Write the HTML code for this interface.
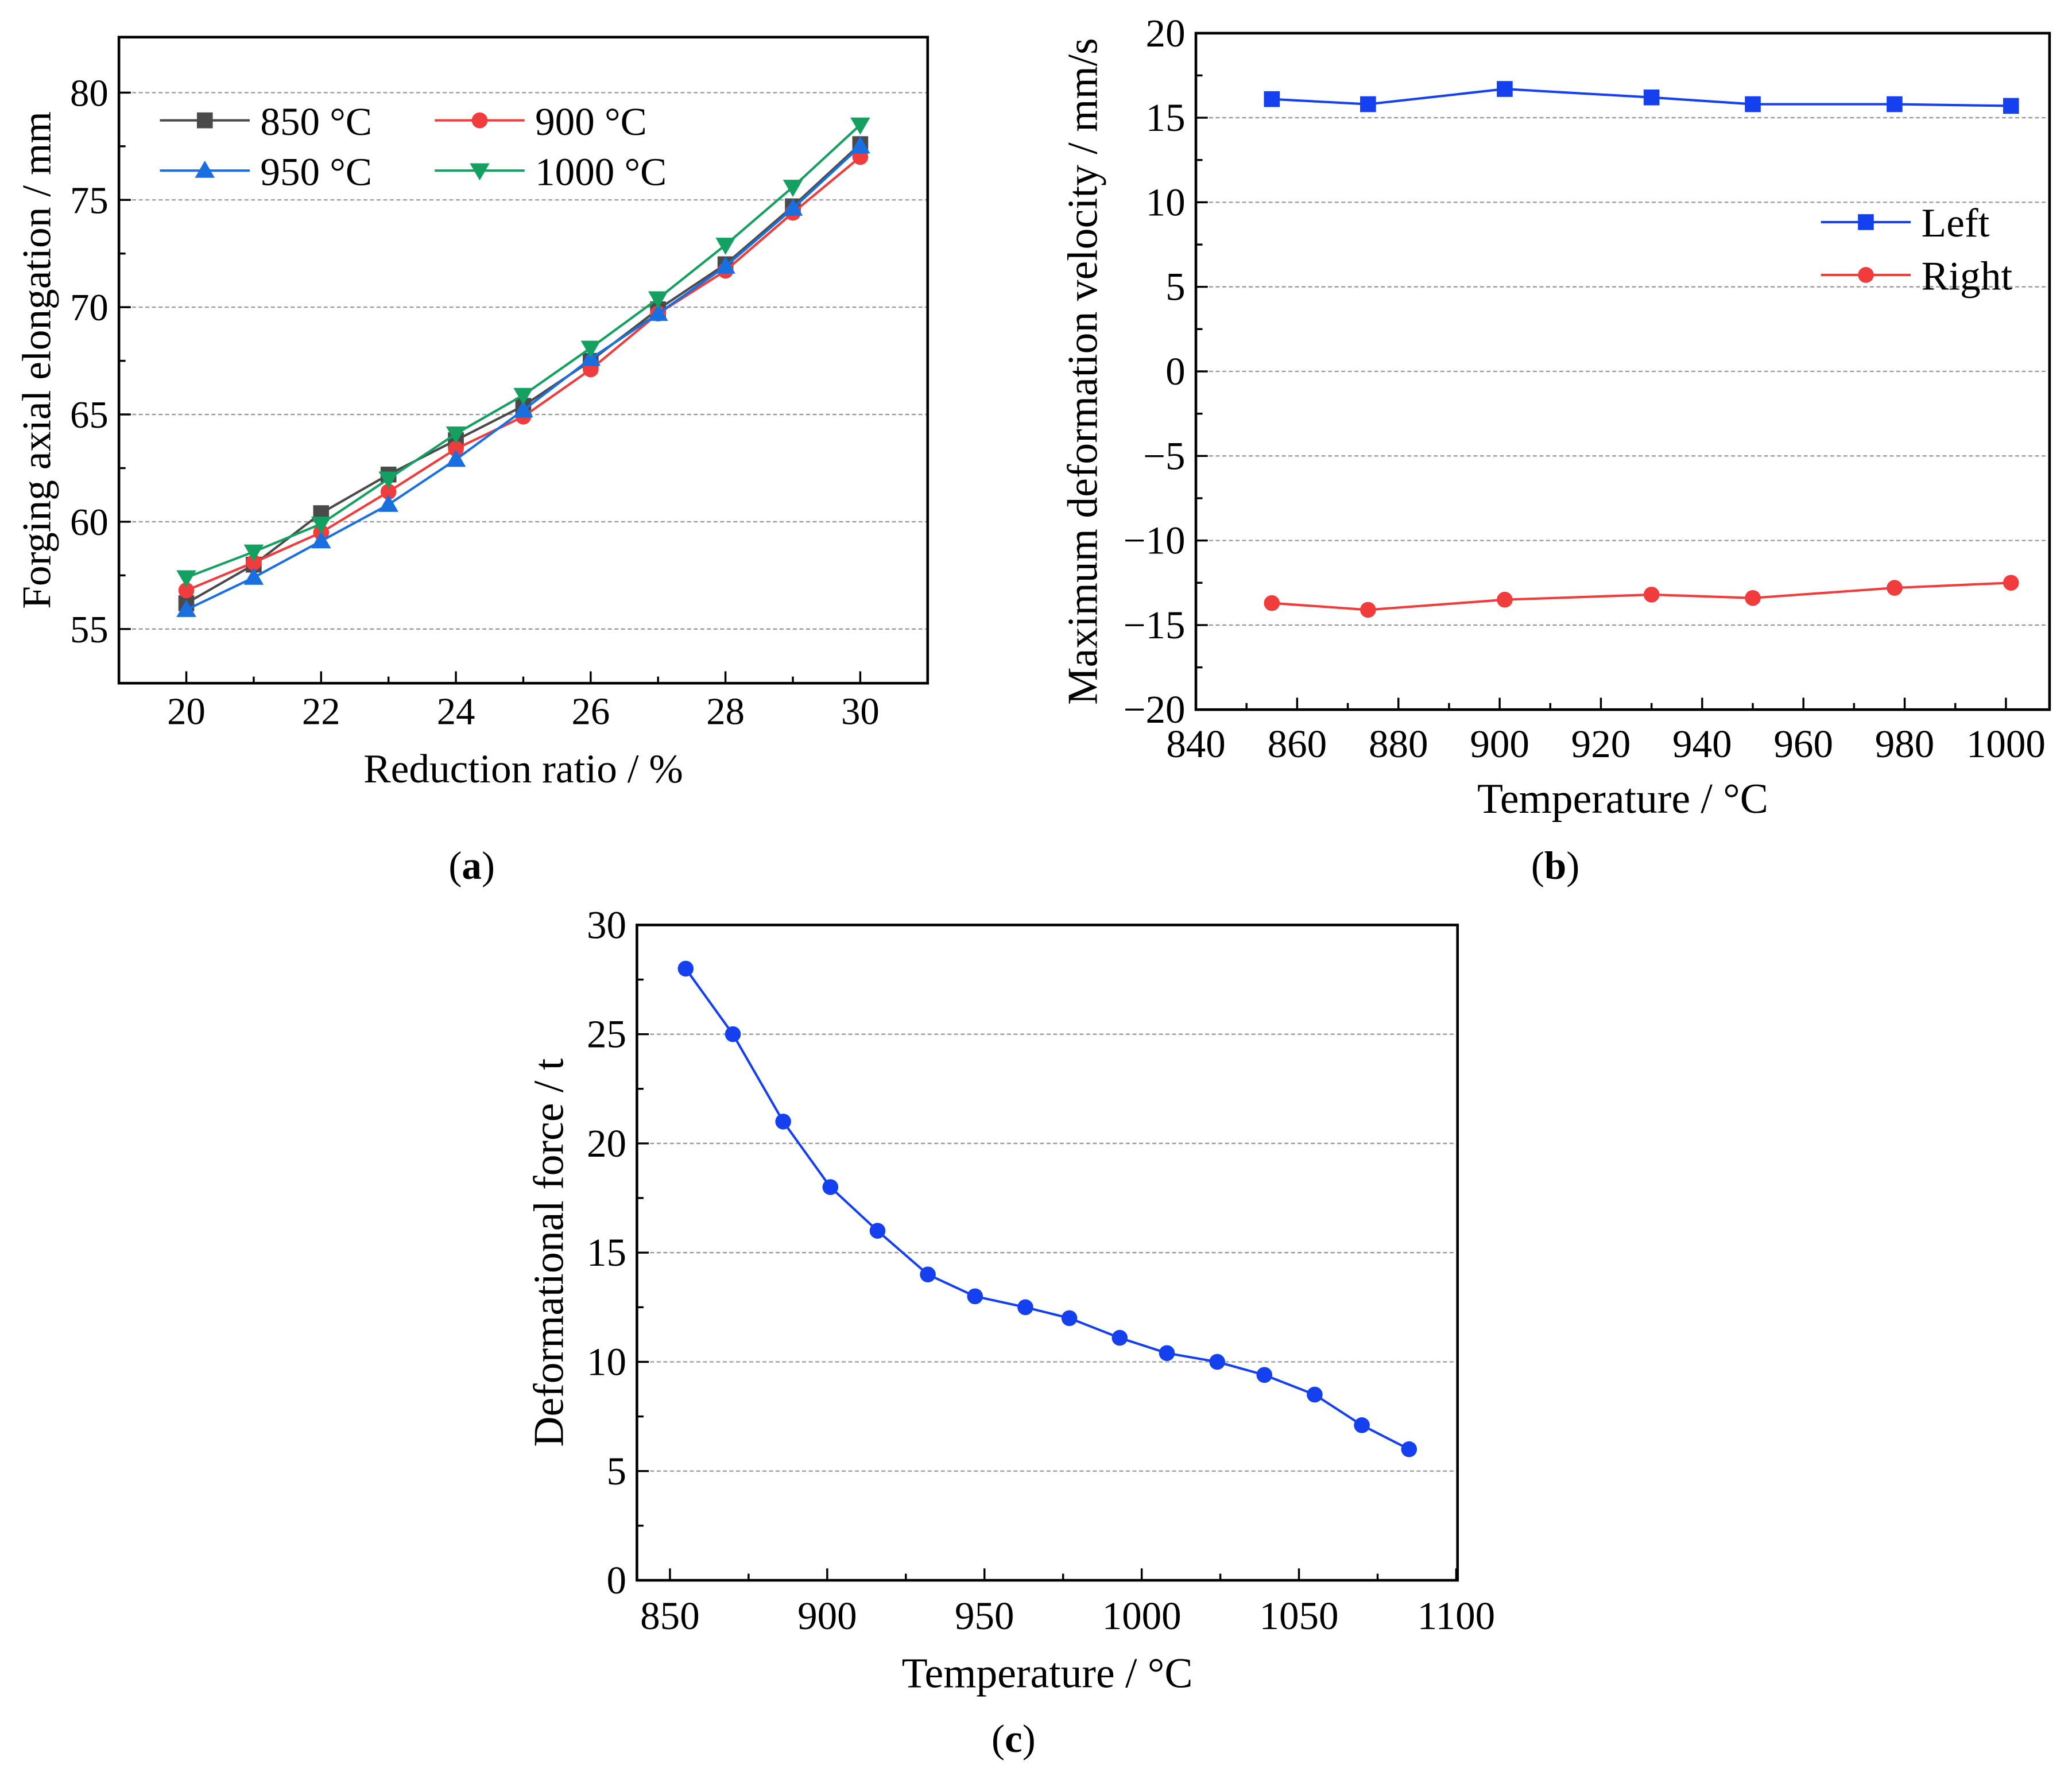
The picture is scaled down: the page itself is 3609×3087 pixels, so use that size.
<!DOCTYPE html>
<html><head><meta charset="utf-8"><style>
html,body{margin:0;padding:0;background:#fff;}
svg{display:block;}
text{font-family:"Liberation Serif",serif;fill:#000;}
</style></head><body>
<svg id="fig" width="3609" height="3087" viewBox="0 0 1568 1341" xmlns="http://www.w3.org/2000/svg">
<rect width="1568" height="1341" fill="#fff"/>
<g id="pa"></g>
<g id="pb"></g>
<g id="pc"></g>
<text x="357" y="665" font-size="30" text-anchor="middle">(<tspan font-weight="bold">a</tspan>)</text>
<text x="1177" y="665" font-size="30" text-anchor="middle">(<tspan font-weight="bold">b</tspan>)</text>
<text x="767" y="1326" font-size="30" text-anchor="middle">(<tspan font-weight="bold">c</tspan>)</text>
</svg>
<script>
// Panel (a) data
const aX = [20,21,22,23,24,25,26,27,28,29,30];
const a850 = [56.2,58.0,60.4,62.2,63.8,65.4,67.5,69.9,72.0,74.7,77.6];
const a900 = [56.8,58.1,59.5,61.4,63.4,64.9,67.1,69.7,71.7,74.4,77.0];
const a950 = [55.9,57.4,59.1,60.8,62.9,65.2,67.6,69.7,71.9,74.6,77.5];
const a1000 = [57.4,58.6,59.9,62.0,64.1,65.9,68.1,70.4,72.9,75.6,78.5];
const aXTicks = [20,22,24,26,28,30];
const aYTicks = [55,60,65,70,75,80];
// Panel (b) data
const bX = [855,874,901,930,950,978,1001];
const bLeft = [16.1,15.8,16.7,16.2,15.8,15.8,15.7];
const bRight = [-13.7,-14.1,-13.5,-13.2,-13.4,-12.8,-12.5];
const bXTicks = [840,860,880,900,920,940,960,980,1000];
const bYTicks = [-20,-15,-10,-5,0,5,10,15,20];
// Panel (c) data
const cX = [855,870,886,901,916,932,947,963,977,993,1008,1024,1039,1055,1070,1085];
const cY = [28,25,21,18,16,14,13,12.5,12,11.1,10.4,10,9.4,8.5,7.1,6];
const cXTicks = [850,900,950,1000,1050,1100];
const cYTicks = [0,5,10,15,20,25,30];

const NS="http://www.w3.org/2000/svg";
function mk(parent,tag,attrs,txt){const e=document.createElementNS(NS,tag);for(const k in attrs)e.setAttribute(k,attrs[k]);if(txt!==undefined)e.textContent=txt;parent.appendChild(e);return e;}
function lin(d0,d1,p0,p1){return v=>p0+(v-d0)*(p1-p0)/(d1-d0);}

function marker(g,type,x,y,color){
  let m;
  if(type==='sq'){m=mk(g,'rect',{x:x-6,y:y-6,width:12,height:12,fill:color});}
  else if(type==='ci'){m=mk(g,'circle',{cx:x,cy:y,r:6,fill:color});}
  else if(type==='tu'){m=mk(g,'polygon',{points:`${x},${y-7.5} ${x-7.5},${y+5.5} ${x+7.5},${y+5.5}`,fill:color});}
  else {m=mk(g,'polygon',{points:`${x},${y+7.5} ${x-7.5},${y-5.5} ${x+7.5},${y-5.5}`,fill:color});}
  
  
}

function axes(g,o){
  const {x0,x1,y0,y1,sx,sy,xt,yt,xminor,yminor,grid,fs,tfs,xlab,ylab,xlabY,ylabX,minus,xtY}=o;
  for(const v of grid){const l=mk(g,'line',{x1:x0,x2:x1,y1:sy(v),y2:sy(v),stroke:'#999','stroke-width':1,'stroke-dasharray':'3,2'});
    }
  const f=mk(g,'rect',{x:x0,y:y0,width:x1-x0,height:y1-y0,fill:'none',stroke:'#000','stroke-width':2});
  
  for(const v of xt){mk(g,'line',{x1:sx(v),x2:sx(v),y1:y1,y2:y1-9,stroke:'#000','stroke-width':1.5});
    const t=mk(g,'text',{x:sx(v),y:xtY,'font-size':fs,'text-anchor':'middle'},String(v));
    }
  for(const v of xminor)mk(g,'line',{x1:sx(v),x2:sx(v),y1:y1,y2:y1-5,stroke:'#000','stroke-width':1.5});
  for(const v of yt){mk(g,'line',{x1:x0,x2:x0+9,y1:sy(v),y2:sy(v),stroke:'#000','stroke-width':1.5});
    const s=v<0&&minus?'\u2212'+Math.abs(v):String(v);
    const t=mk(g,'text',{x:x0-8,y:sy(v)+10,'font-size':fs,'text-anchor':'end'},s);
    }
  for(const v of yminor)mk(g,'line',{x1:x0,x2:x0+5,y1:sy(v),y2:sy(v),stroke:'#000','stroke-width':1.5});
  const xl=mk(g,'text',{x:(x0+x1)/2,y:xlabY,'font-size':tfs,'text-anchor':'middle'},xlab);
  
  const cy=(y0+y1)/2;
  const yl=mk(g,'text',{x:ylabX,y:cy,'font-size':tfs,'text-anchor':'middle',transform:`rotate(-90 ${ylabX} ${cy})`},ylab);
  
}
function series(g,xs,ys,sx,sy,color,type,name){
  const s=mk(g,'g',{});
  
  mk(s,'polyline',{points:xs.map((x,i)=>sx(x)+','+sy(ys[i])).join(' '),fill:'none',stroke:color,'stroke-width':1.8});
  xs.forEach((x,i)=>marker(s,type,sx(x),sy(ys[i]),color));
}
function legend(g,x,y,color,type,label,fs,name){
  const l=mk(g,'g',{});
  
  mk(l,'line',{x1:x,x2:x+68,y1:y,y2:y,stroke:color,'stroke-width':1.8});
  marker(l,type,x+34,y,color);
  mk(l,'text',{x:x+76,y:y+11,'font-size':fs},label);
}

// Panel a
(function(){
  const g=document.getElementById('pa');
  const sx=lin(20,30,141,651), sy=lin(55,80,476,70);
  const xm=[21,23,25,27,29], ym=[57.5,62.5,67.5,72.5,77.5];
  axes(g,{x0:90,x1:702,y0:28,y1:517,sx,sy,xt:aXTicks,yt:aYTicks,xminor:xm,yminor:ym,grid:aYTicks,fs:29,tfs:31,xtY:548,
    xlab:'Reduction ratio / %',xlabY:592,ylab:'Forging axial elongation / mm',ylabX:38});
  series(g,aX,a850,sx,sy,'#4a4a4a','sq','series-850c');
  series(g,aX,a900,sx,sy,'#f03c3c','ci','series-900c');
  series(g,aX,a950,sx,sy,'#1a6fe0','tu','series-950c');
  series(g,aX,a1000,sx,sy,'#14a060','td','series-1000c');
  legend(g,121,91,'#4a4a4a','sq','850 °C',30,'legend-850c');
  legend(g,329,91,'#f03c3c','ci','900 °C',30,'legend-900c');
  legend(g,121,129,'#1a6fe0','tu','950 °C',30,'legend-950c');
  legend(g,329,129,'#14a060','td','1000 °C',30,'legend-1000c');
})();
// Panel b
(function(){
  const g=document.getElementById('pb');
  const sx=lin(840,1000,905,1518), sy=lin(-20,20,537,25);
  const xm=[850,870,890,910,930,950,970,990], ym=[-17.5,-12.5,-7.5,-2.5,2.5,7.5,12.5,17.5];
  axes(g,{x0:905,x1:1551,y0:25,y1:537,sx,sy,xt:bXTicks,yt:bYTicks,xminor:xm,yminor:ym,grid:[-15,-10,-5,0,5,10,15],fs:30,tfs:32,xtY:573,
    xlab:'Temperature / °C',xlabY:615,ylab:'Maximum deformation velocity / mm/s',ylabX:830,minus:true});
  series(g,bX,bLeft,sx,sy,'#1440f0','sq','series-left');
  series(g,bX,bRight,sx,sy,'#f03c3c','ci','series-right');
  legend(g,1378,168,'#1440f0','sq','Left',31,'legend-left');
  legend(g,1378,208,'#f03c3c','ci','Right',31,'legend-right');
})();
// Panel c
(function(){
  const g=document.getElementById('pc');
  const sx=lin(850,1100,507,1102), sy=lin(0,30,1196,700);
  const xm=[875,925,975,1025,1075], ym=[2.5,7.5,12.5,17.5,22.5,27.5];
  axes(g,{x0:482,x1:1103,y0:700,y1:1196,sx,sy,xt:cXTicks,yt:cYTicks,xminor:xm,yminor:ym,grid:[5,10,15,20,25],fs:30,tfs:32,xtY:1233,
    xlab:'Temperature / °C',xlabY:1277,ylab:'Deformational force / t',ylabX:426});
  series(g,cX,cY,sx,sy,'#1440f0','ci','series-force');
})();
</script>
</body></html>
